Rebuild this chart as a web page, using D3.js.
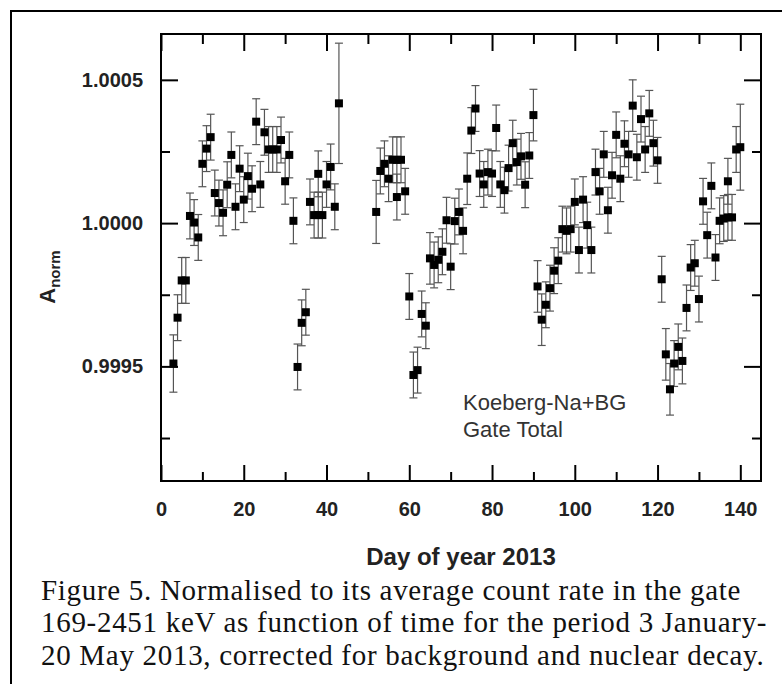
<!DOCTYPE html>
<html>
<head>
<meta charset="utf-8">
<script src="https://cdn.jsdelivr.net/npm/d3@7"></script>
<style>
  html, body { margin: 0; padding: 0; background: #fff; }
  svg { display: block; }
</style>
</head>
<body>
<div id="chart"></div>
<script>
// Day of year 2013 and normalised count rate
const days = [
    3, 4, 5, 6, 7, 8, 9, 10, 11, 12, 13, 14, 15, 16, 17, 18, 19, 20, 21, 22,
    23, 24, 25, 26, 27, 28, 29, 30, 31, 32, 33, 34, 35, 36, 37, 38, 38, 39, 40, 41,
    42, 43, 52, 53, 54, 55, 56, 57, 57, 58, 59, 60, 61, 62, 63, 64, 65, 66, 67, 68,
    69, 70, 71, 72, 73, 74, 75, 76, 77, 78, 79, 80, 81, 82, 83, 84, 85, 86, 87, 88,
    89, 90, 91, 92, 93, 94, 95, 96, 97, 98, 99, 100, 101, 102, 103, 104, 105, 106, 107, 108,
    109, 110, 111, 112, 113, 114, 115, 116, 117, 118, 119, 120, 121, 122, 123, 124, 125, 126, 127, 128,
    129, 130, 131, 132, 133, 134, 135, 136, 137, 137, 138, 139, 140
];

const values = [
    0.99951, 0.99967, 0.99980, 0.99980, 1.000025, 1.000002, 0.99995, 1.000207, 1.00026, 1.00030,
    1.000105, 1.00007, 1.000036, 1.000134, 1.000238, 1.000057, 1.00019, 1.000082, 1.000164, 1.00012,
    1.000354, 1.000135, 1.000317, 1.000257, 1.000257, 1.000257, 1.00029, 1.000146, 1.000238, 1.000008,
    0.999498, 0.999652, 0.999689, 1.000074, 1.000028, 1.000172, 1.000028, 1.000028, 1.000135, 1.000196,
    1.000057, 1.000418, 1.000039, 1.000182, 1.000207, 1.000155, 1.000221, 1.000221, 1.000091, 1.000221,
    1.000111, 0.999744, 0.99947, 0.999487, 0.999683, 0.999642, 0.999877, 0.999854, 0.999872, 0.99990,
    1.00001, 0.999848, 1.000007, 1.000039, 0.999973, 1.000155, 1.000323, 1.00040, 1.000173, 1.000135,
    1.000178, 1.000173, 1.000332, 1.000135, 1.000115, 1.000192, 1.000279, 1.000213, 1.000233, 1.000134,
    1.000236, 1.000377, 0.999779, 0.999663, 0.999715, 0.999773, 0.999834, 0.999869, 0.999979, 0.999973,
    0.999979, 1.000074, 0.999906, 1.000082, 0.999993, 0.999906, 1.000178, 1.000111, 1.00024, 1.000045,
    1.000167, 1.000308, 1.000155, 1.000277, 1.00024, 1.00041, 1.00023, 1.000363, 1.000257, 1.000383,
    1.000279, 1.000219, 0.999804, 0.999542, 0.99942, 0.99951, 0.999568, 0.999519, 0.999704, 0.999845,
    0.99986, 0.999735, 1.000076, 0.999958, 1.00013, 0.99988, 1.000008, 1.000016, 1.000146, 1.00002,
    1.00002, 1.000257, 1.000265
];

// half-length of each error bar
const errors = [
    0.00010, 0.00008, 0.00008, 0.00008, 0.00008, 0.00008, 0.00008, 0.00008, 0.00008, 0.00008,
    0.00008, 0.00008, 0.00008, 0.00008, 0.00008, 0.00008, 0.00008, 0.00008, 0.00008, 0.00008,
    0.00008, 0.00008, 0.00008, 0.00008, 0.00008, 0.00008, 0.00008, 0.00008, 0.00008, 0.00008,
    0.00008, 0.00008, 0.00008, 0.00008, 0.00008, 0.00008, 0.00008, 0.00008, 0.00008, 0.00008,
    0.00008, 0.00021, 0.00011, 0.00008, 0.00008, 0.00008, 0.00008, 0.00008, 0.00008, 0.00008,
    0.00008, 0.00008, 0.00008, 0.00008, 0.00008, 0.00008, 0.00009, 0.00008, 0.00008, 0.00008,
    0.00008, 0.00008, 0.00008, 0.00008, 0.00008, 0.00009, 0.00008, 0.00008, 0.00008, 0.00008,
    0.00008, 0.00008, 0.00008, 0.00008, 0.00008, 0.00008, 0.00008, 0.00008, 0.00008, 0.00008,
    0.00008, 0.00009, 0.00009, 0.00009, 0.00008, 0.00008, 0.00008, 0.00008, 0.00008, 0.00008,
    0.00008, 0.00008, 0.00008, 0.00008, 0.00008, 0.00008, 0.00008, 0.00008, 0.00008, 0.00008,
    0.00008, 0.00008, 0.00008, 0.00008, 0.00008, 0.00009, 0.00008, 0.00008, 0.00008, 0.00008,
    0.00008, 0.00008, 0.00008, 0.00009, 0.00009, 0.00008, 0.00008, 0.00008, 0.00008, 0.00008,
    0.00008, 0.00008, 0.00008, 0.00008, 0.00008, 0.00008, 0.00008, 0.00008, 0.00008, 0.00008,
    0.00008, 0.00008, 0.00015
];

const xMajorTicks = [0, 20, 40, 60, 80, 100, 120, 140];
const xMinorTicks = [10, 30, 50, 70, 90, 110, 130];
const yMajorTicks = [0.9995, 1.0000, 1.0005];
const yMinorTicks = [0.99925, 0.99975, 1.00025];

const legendLines = ["Koeberg-Na+BG", "Gate Total"];
const captionLines = [
    "Figure 5. Normalised to its average count rate in the gate",
    "169-2451 keV as function of time for the period 3 January-",
    "20 May 2013, corrected for background and nuclear decay."
];

const W = 782, H = 684;
const plot = {left: 161, right: 761, top: 34, bottom: 481};
const sansBold = "'Liberation Sans', Arial, sans-serif";

const svg = d3.select("#chart").append("svg")
    .attr("width", W)
    .attr("height", H);

// outer frame, runs off the right and bottom edge
svg.append("rect")
    .attr("x", 11).attr("y", 11)
    .attr("width", W + 20).attr("height", H + 20)
    .attr("fill", "none")
    .attr("stroke", "#000")
    .attr("stroke-width", 2);

const x = d3.scaleLinear().domain([0, 145]).range([plot.left, plot.right]);
const y = d3.scaleLinear().domain([0.9991, 1.00066]).range([plot.bottom, plot.top]);

const points = days.map((d, i) => ({day: d, value: values[i], err: errors[i]}));

// error bars
const bars = svg.append("g")
    .attr("stroke", "#555")
    .attr("stroke-width", 1.2);

points.forEach(p => {
    const cx = x(p.day);
    const y1 = y(p.value + p.err), y2 = y(p.value - p.err);
    bars.append("line").attr("x1", cx).attr("x2", cx).attr("y1", y1).attr("y2", y2);
    bars.append("line").attr("x1", cx - 4).attr("x2", cx + 4).attr("y1", y1).attr("y2", y1);
    bars.append("line").attr("x1", cx - 4).attr("x2", cx + 4).attr("y1", y2).attr("y2", y2);
});

// square markers
svg.append("g")
    .selectAll("rect")
    .data(points)
    .join("rect")
    .attr("x", d => x(d.day) - 4)
    .attr("y", d => y(d.value) - 4)
    .attr("width", 8)
    .attr("height", 8)
    .attr("fill", "#000");

// ticks point inwards on all four sides
function styleAxis(g) {
    g.select(".domain").remove();
    g.selectAll(".tick line").attr("stroke", "#000").attr("stroke-width", 2);
    g.selectAll(".tick text")
        .attr("fill", "#222")
        .style("font-family", sansBold)
        .style("font-weight", "bold")
        .style("font-size", "20px");
}

svg.append("g")
    .attr("transform", `translate(0,${plot.bottom})`)
    .call(d3.axisBottom(x).tickValues(xMajorTicks).tickSize(-16).tickPadding(21).tickFormat(d3.format("d")))
    .call(styleAxis);

svg.append("g")
    .attr("transform", `translate(0,${plot.bottom})`)
    .call(d3.axisBottom(x).tickValues(xMinorTicks).tickSize(-9).tickFormat(""))
    .call(styleAxis);

svg.append("g")
    .attr("transform", `translate(0,${plot.top})`)
    .call(d3.axisTop(x).tickValues(xMajorTicks).tickSize(-17).tickFormat(""))
    .call(styleAxis);

svg.append("g")
    .attr("transform", `translate(0,${plot.top})`)
    .call(d3.axisTop(x).tickValues(xMinorTicks).tickSize(-10).tickFormat(""))
    .call(styleAxis);

svg.append("g")
    .attr("transform", `translate(${plot.left},0)`)
    .call(d3.axisLeft(y).tickValues(yMajorTicks).tickSize(-17).tickPadding(18).tickFormat(d3.format(".4f")))
    .call(styleAxis);

svg.append("g")
    .attr("transform", `translate(${plot.left},0)`)
    .call(d3.axisLeft(y).tickValues(yMinorTicks).tickSize(-9).tickFormat(""))
    .call(styleAxis);

svg.append("g")
    .attr("transform", `translate(${plot.right},0)`)
    .call(d3.axisRight(y).tickValues(yMajorTicks).tickSize(-17).tickFormat(""))
    .call(styleAxis);

svg.append("g")
    .attr("transform", `translate(${plot.right},0)`)
    .call(d3.axisRight(y).tickValues(yMinorTicks).tickSize(-9).tickFormat(""))
    .call(styleAxis);

// plot box
svg.append("rect")
    .attr("x", plot.left).attr("y", plot.top)
    .attr("width", plot.right - plot.left)
    .attr("height", plot.bottom - plot.top)
    .attr("fill", "none")
    .attr("stroke", "#000")
    .attr("stroke-width", 2);

// axis titles
svg.append("text")
    .attr("x", (plot.left + plot.right) / 2)
    .attr("y", 565)
    .attr("text-anchor", "middle")
    .style("font-family", sansBold)
    .style("font-weight", "bold")
    .style("font-size", "24px")
    .attr("fill", "#222")
    .text("Day of year 2013");

const yTitle = svg.append("text")
    .attr("transform", "translate(55,277) rotate(-90)")
    .attr("text-anchor", "middle")
    .style("font-family", sansBold)
    .style("font-weight", "bold")
    .attr("fill", "#222");
yTitle.append("tspan").style("font-size", "22px").text("A");
yTitle.append("tspan").style("font-size", "15px").attr("dy", 5).text("norm");

// legend text inside the plot
svg.append("g")
    .selectAll("text")
    .data(legendLines)
    .join("text")
    .attr("x", 463)
    .attr("y", (d, i) => 410 + i * 27)
    .style("font-family", "'Liberation Sans', Arial, sans-serif")
    .style("font-size", "22px")
    .attr("fill", "#333")
    .text(d => d);

// figure caption, tightly set like the original
svg.append("g")
    .selectAll("text")
    .data(captionLines)
    .join("text")
    .attr("x", 41)
    .attr("y", (d, i) => 600 + i * 32.3)
    .style("font-family", "'Liberation Serif', 'Times New Roman', serif")
    .style("font-size", "29px")
    .style("letter-spacing", "0.7px")
    .attr("fill", "#111")
    .text(d => d);
</script>
</body>
</html>
